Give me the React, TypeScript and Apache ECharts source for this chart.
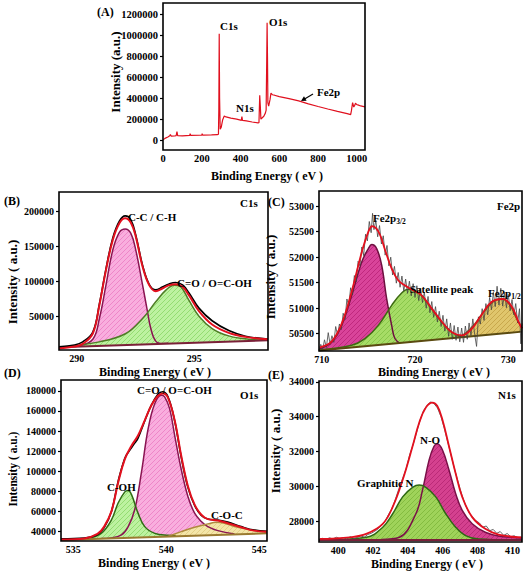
import React, { useEffect, useRef } from 'react';
import * as echarts from 'echarts';

const FONT = '"Liberation Serif", "Times New Roman", serif';

// ---------- Panel A: survey spectrum ----------
const surveyTicksX = [0, 200, 400, 600, 800, 1000];
const surveyTicksY = [0, 200000, 400000, 600000, 800000, 1000000, 1200000];
const survey: [number, number][] = [
  [1, 8000], [10, 22000], [25, 36000], [35, 48000], [38, 60000], [42, 44000], [60, 45000],
  [68, 48000], [72, 86000], [76, 47000], [100, 46000], [138, 50000], [140, 68000], [143, 50000],
  [190, 52000], [200, 53000], [202, 66000], [205, 53000], [250, 55000], [280, 57000], [286, 62000],
  [288, 300000], [290, 1015000], [292, 400000], [295, 110000], [300, 125000], [308, 200000],
  [316, 235000], [325, 226000], [350, 215000], [380, 205000], [400, 196000], [404, 193000],
  [407, 228000], [410, 194000], [430, 188000], [460, 178000], [490, 170000], [495, 171000],
  [499, 432000], [502, 330000], [505, 205000], [512, 218000], [520, 232000], [528, 262000],
  [532, 290000], [535, 750000], [537, 1120000], [539, 800000], [541, 360000], [545, 328000],
  [552, 390000], [557, 452000], [565, 436000], [575, 432000], [600, 419000], [650, 400000],
  [700, 378000], [750, 350000], [800, 325000], [850, 301000], [900, 278000], [950, 257000],
  [968, 247000], [972, 285000], [978, 362000], [984, 320000], [988, 332000], [993, 356000],
  [998, 344000], [1005, 340000], [1020, 330000], [1042, 322000]
];

// ---------- Panel B: C1s ----------
const c1sTicksX = [290, 295];
const c1sTicksY = [50000, 100000, 150000, 200000];
const c1sRaw: [number, number][] = [
  [289.24, 6800], [289.9, 9500], [290.25, 14000], [290.68, 28000], [290.96, 68000], [291.24, 118000],
  [291.53, 162000], [291.81, 186000], [292.06, 193500], [292.3, 188000], [292.51, 166000],
  [292.8, 123000], [293.08, 96000], [293.36, 88000], [293.64, 92000], [293.93, 96500],
  [294.21, 98500], [294.5, 95000], [294.77, 84000], [295.2, 62000], [295.76, 44000],
  [296.47, 30000], [297.18, 22000], [298.14, 17800]
];
const c1sEnvelope: [number, number][] = [
  [289.24, 4400], [289.9, 7200], [290.25, 11000], [290.68, 25800], [290.96, 66200], [291.24, 116200],
  [291.53, 159100], [291.81, 182900], [292.06, 190000], [292.3, 183800], [292.51, 163800],
  [292.8, 121000], [293.08, 94800], [293.36, 86200], [293.64, 90000], [293.93, 94800],
  [294.21, 96200], [294.5, 92400], [294.77, 80500], [295.2, 57700], [295.76, 38600],
  [296.47, 26700], [297.18, 21000], [298.14, 17700]
];
const c1sCC: [number, number][] = [
  [289.6, 7000], [290.11, 8500], [290.68, 17700], [290.96, 47200], [291.24, 94800], [291.53, 144800],
  [291.81, 170000], [292.06, 174800], [292.3, 168600], [292.51, 144800], [292.8, 94800],
  [293.01, 56700], [293.15, 32900], [293.36, 15000], [293.64, 11700], [293.9, 11900]
];
const c1sCO: [number, number][] = [
  [289.24, 6300], [290.96, 13900], [292.09, 25800], [292.8, 47200], [293.36, 71000], [293.79, 87700],
  [294.14, 94800], [294.42, 92400], [294.77, 73400], [295.2, 50500], [295.76, 32900],
  [296.47, 22400], [297.32, 17700], [298.14, 16300]
];
const c1sBaseline: [number, number][] = [[289.24, 6300], [298.14, 16200]];

// ---------- Panel C: Fe2p ----------
const fe2pTicksX = [710, 720, 730];
const fe2pTicksY = [50500, 51000, 51500, 52000, 52500, 53000];
const fe2pRaw: [number, number][] = [
  [709.7, 50170], [709.9, 50290], [710.1, 50190], [710.3, 50380], [710.5, 50230], [710.7, 50520],
  [710.9, 50290], [711.1, 50460], [711.3, 50330], [711.5, 50640], [711.7, 50470], [711.9, 50690],
  [712.1, 50580], [712.3, 50900], [712.5, 50780], [712.7, 51180], [712.9, 51050], [713.1, 51400],
  [713.3, 51260], [713.5, 51640], [713.7, 51520], [713.9, 51920], [714.1, 51830], [714.3, 52200],
  [714.5, 52030], [714.7, 52450], [714.9, 52320], [715.1, 52700], [715.3, 52480], [715.45, 52860],
  [715.6, 52540], [715.8, 52720], [716.0, 52400], [716.2, 52620], [716.4, 52260], [716.6, 52420],
  [716.8, 52040], [717.0, 52230], [717.2, 51830], [717.4, 52000], [717.6, 51650], [717.8, 51820],
  [718.0, 51490], [718.2, 51700], [718.4, 51410], [718.6, 51630], [718.8, 51340], [719.0, 51570],
  [719.2, 51290], [719.4, 51530], [719.6, 51240], [719.8, 51480], [720.0, 51210], [720.2, 51440],
  [720.4, 51150], [720.6, 51390], [720.8, 51110], [721.0, 51310], [721.2, 51000], [721.4, 51230],
  [721.6, 50910], [721.8, 51130], [722.0, 50820], [722.2, 51030], [722.4, 50730], [722.6, 50940],
  [722.8, 50640], [723.0, 50860], [723.2, 50550], [723.4, 50790], [723.6, 50450], [723.8, 50710],
  [724.0, 50390], [724.2, 50660], [724.4, 50370], [724.6, 50630], [724.8, 50340], [725.0, 50610],
  [725.2, 50330], [725.4, 50650], [725.6, 50390], [725.8, 50710], [726.0, 50460], [726.2, 50790],
  [726.4, 50480], [726.6, 50250], [726.8, 50830], [727.0, 50690], [727.2, 50990], [727.4, 50760],
  [727.6, 51090], [727.8, 50870], [728.0, 51210], [728.2, 50970], [728.4, 51310], [728.6, 51030],
  [728.8, 51430], [729.0, 51060], [729.2, 51390], [729.4, 51040], [729.6, 51310], [729.8, 51010],
  [730.0, 51270], [730.2, 50950], [730.4, 51170], [730.6, 50870], [730.8, 51090], [731.0, 50710],
  [731.2, 50990], [731.35, 50300], [731.47, 50700]
];
const fe2pEnvelope: [number, number][] = [
  [709.8, 50230], [711.07, 50349], [712.14, 50696], [713.2, 51318], [714.3, 52103], [715.0, 52496],
  [715.4, 52607], [716.1, 52496], [716.8, 52136], [717.5, 51776], [718.2, 51547], [718.9, 51449],
  [719.6, 51370], [720.7, 51252], [721.8, 50991], [722.9, 50729], [723.9, 50533], [725.0, 50467],
  [726.1, 50598], [727.1, 50860], [728.2, 51122], [729.4, 51180], [730.4, 51023], [731.1, 50729],
  [731.47, 50600]
];
const fe2p32: [number, number][] = [
  [709.82, 50205], [711.07, 50336], [712.14, 50663], [713.21, 51250], [714.29, 51907], [715.0, 52169],
  [715.36, 52247], [715.89, 52169], [716.43, 51842], [716.96, 51187], [717.5, 50663], [717.86, 50400],
  [718.5, 50300]
];
const fe2pSatellite: [number, number][] = [
  [709.72, 50178], [713.21, 50271], [714.64, 50402], [716.07, 50663], [717.5, 51056], [718.57, 51298],
  [719.29, 51370], [720.0, 51350], [720.71, 51252], [721.79, 50990], [722.86, 50729], [723.93, 50533],
  [725.0, 50434], [726.07, 50400]
];
const fe2p12: [number, number][] = [
  [723.93, 50395], [724.29, 50408], [725.36, 50500], [726.43, 50696], [727.5, 50958], [728.57, 51154],
  [729.36, 51187], [730.18, 51056], [730.89, 50794], [731.47, 50610]
];
const fe2pBaseline: [number, number][] = [[709.71, 50172], [731.47, 50540]];

// ---------- Panel D: O1s ----------
const o1sTicksX = [535, 540, 545];
const o1sTicksY = [40000, 60000, 80000, 100000, 120000, 140000, 160000, 180000];
const o1sRaw: [number, number][] = [
  [534.34, 32800], [535.6, 33600], [536.3, 37000], [536.66, 44000], [537.05, 60000], [537.41, 90000],
  [537.77, 113000], [538.0, 120000], [538.3, 128000], [538.48, 133000], [538.84, 150000],
  [539.2, 166000], [539.55, 176500], [539.8, 179000], [540.09, 174000], [540.45, 150000],
  [540.8, 114000], [541.16, 84000], [541.52, 66000], [541.88, 56000], [542.23, 52500],
  [542.77, 51500], [543.3, 49500], [544.02, 45000], [544.73, 41500], [545.41, 40300]
];
const o1sEnvelope: [number, number][] = [
  [534.34, 32300], [535.6, 33300], [536.3, 37700], [536.66, 45000], [537.05, 60100], [537.41, 88600],
  [537.77, 112000], [538.13, 125400], [538.48, 135500], [538.84, 150500], [539.2, 165600],
  [539.55, 175000], [539.82, 177300], [540.09, 173000], [540.45, 150500], [540.8, 115400],
  [541.16, 85200], [541.52, 66800], [541.88, 56800], [542.23, 52400], [542.77, 51100],
  [543.3, 48400], [544.02, 44400], [544.73, 41000], [545.41, 40000]
];
const o1sCOH: [number, number][] = [
  [535.8, 33300], [536.5, 38300], [537.05, 51700], [537.41, 68500], [537.77, 79500], [537.95, 80900],
  [538.13, 76800], [538.48, 58400], [538.84, 45000], [539.38, 38300], [540.09, 36300], [540.5, 36000]
];
const o1sCO: [number, number][] = [
  [536.5, 33300], [537.05, 33800], [537.59, 36700], [537.95, 45000], [538.3, 61800], [538.66, 98600],
  [539.02, 142000], [539.38, 167300], [539.73, 175600], [539.91, 174000], [540.18, 162000],
  [540.45, 135500], [540.8, 102000], [541.16, 75000], [541.52, 58400], [541.88, 50100],
  [542.23, 45000], [542.77, 41000], [543.66, 37700]
];
const o1sCOC: [number, number][] = [
  [540.09, 35200], [540.8, 40000], [541.52, 44400], [542.23, 47700], [542.68, 49400], [543.13, 48400],
  [543.66, 45000], [544.55, 41700], [545.41, 40000]
];
const o1sBaseline: [number, number][] = [[534.34, 31600], [545.41, 38300]];

// ---------- Panel E: N1s ----------
const n1sTicksX = [400, 402, 404, 406, 408, 410];
const n1sTicksY = [28000, 30000, 32000, 34000, 36000];
const n1sTickLabels = ['28000', '30000', '32000', '34000', '34000'];
const n1sRaw: [number, number][] = [
  [398.9, 26960], [399.1, 27010], [399.3, 26950], [399.5, 27040], [399.7, 26980], [399.9, 27070],
  [400.1, 26990], [400.3, 27050], [400.5, 26970], [400.7, 27110], [400.9, 27000], [401.1, 27060],
  [401.3, 27150], [401.5, 27080], [401.7, 27230], [401.9, 27300], [402.1, 27420], [402.3, 27560],
  [402.5, 27780], [402.7, 28020], [402.9, 28400], [403.1, 28750], [403.3, 29300], [403.5, 29900],
  [403.7, 30450], [403.9, 31000], [404.1, 31800], [404.3, 32400], [404.5, 33100], [404.7, 33800],
  [404.9, 34350], [405.1, 34650], [405.3, 34850], [405.5, 34750], [405.7, 34500], [405.9, 34000],
  [406.1, 33300], [406.3, 32500], [406.5, 31700], [406.7, 30900], [406.9, 30200], [407.1, 29500],
  [407.3, 28950], [407.5, 28500], [407.7, 28250], [407.9, 28020], [408.1, 27900], [408.3, 27650],
  [408.5, 27720], [408.7, 27450], [408.9, 27520], [409.1, 27300], [409.3, 27400], [409.5, 27180],
  [409.7, 27290], [409.9, 27100], [410.1, 27160], [410.3, 27050], [410.5, 27080]
];
const n1sEnvelope: [number, number][] = [
  [398.96, 26975], [400.66, 27070], [401.61, 27265], [402.56, 27845], [403.13, 28813], [403.7, 30360],
  [404.27, 32300], [404.65, 33650], [405.03, 34520], [405.41, 34810], [405.69, 34615], [405.98, 33840],
  [406.36, 32300], [406.74, 30750], [407.12, 29390], [407.69, 28230], [408.44, 27555], [409.2, 27225],
  [410.53, 27070]
];
const n1sNO: [number, number][] = [
  [402.5, 26950], [403.51, 27070], [404.46, 28425], [404.84, 29780], [405.22, 31520], [405.5, 32300],
  [405.69, 32450], [405.98, 32100], [406.36, 30940], [406.74, 29590], [407.12, 28620], [407.69, 27845],
  [408.44, 27360], [409.2, 27150], [410.53, 27030]
];
const n1sGraphitic: [number, number][] = [
  [398.96, 26917], [401.61, 27070], [402.56, 27650], [403.13, 28425], [403.7, 29390], [404.27, 29935],
  [404.65, 30070], [405.03, 29935], [405.6, 29390], [406.17, 28425], [406.74, 27650], [407.31, 27170],
  [408.06, 26975], [410.53, 26917]
];
const n1sBaseline: [number, number][] = [[398.9, 26920], [410.55, 26920]];

// ---------- layout ----------
const grids = [
  { left: 163, top: 3, width: 202, height: 147 },
  { left: 59, top: 192, width: 209, height: 158 },
  { left: 319, top: 191, width: 203, height: 160 },
  { left: 61, top: 380, width: 206, height: 161 },
  { left: 319, top: 381, width: 203, height: 161 },
];
const xRanges = [[0, 1042], [289.24, 298.14], [709.71, 731.47], [534.34, 545.41], [398.9, 410.55]];
const yRanges = [[-88000, 1307000], [2300, 227600], [50160, 53298], [30700, 190700], [26800, 36050]];
const xTicks = [surveyTicksX, c1sTicksX, fe2pTicksX, o1sTicksX, n1sTicksX];
const yTicks = [surveyTicksY, c1sTicksY, fe2pTicksY, o1sTicksY, n1sTicksY];

function hatch(bg: string, fg: string) {
  const s = 5;
  const c = document.createElement('canvas');
  c.width = s; c.height = s;
  const g = c.getContext('2d')!;
  g.fillStyle = bg; g.fillRect(0, 0, s, s);
  g.strokeStyle = fg; g.lineWidth = 1;
  g.beginPath();
  g.moveTo(0, s); g.lineTo(s, 0);
  g.moveTo(-1, 1); g.lineTo(1, -1);
  g.moveTo(s - 1, s + 1); g.lineTo(s + 1, s - 1);
  g.stroke();
  return { image: c, repeat: 'repeat', imageWidth: s, imageHeight: s } as any;
}

export default function App() {
  const ref = useRef<HTMLDivElement>(null);
  useEffect(() => {
    if (!ref.current) return;
    const chart = echarts.init(ref.current, undefined, { renderer: 'svg' });

    const labelStyle = { fontFamily: FONT, fontWeight: 'bold' as const, fontSize: 10, color: '#000' };

    const xAxis = grids.map((_, i) => ({
      type: 'value', gridIndex: i, min: xRanges[i][0], max: xRanges[i][1],
      axisLine: { show: false }, splitLine: { show: false },
      axisTick: { show: false },
      axisLabel: {
        ...labelStyle, fontSize: i === 0 ? 10.5 : 10, margin: 3, customValues: xTicks[i],
        formatter: (v: number) => String(v),
      },
    }));
    const yAxis = grids.map((_, i) => ({
      type: 'value', gridIndex: i, min: yRanges[i][0], max: yRanges[i][1],
      axisLine: { show: false }, splitLine: { show: false },
      axisTick: { show: true, length: 3, lineStyle: { color: '#000', width: 1.2 }, customValues: yTicks[i] },
      axisLabel: {
        ...labelStyle, fontSize: i === 0 ? 10.5 : 10, margin: 5, customValues: yTicks[i],
        formatter: i === 4 ? (v: number) => n1sTickLabels[n1sTicksY.indexOf(v)] ?? String(v) : (v: number) => String(v),
      },
    }));

    const line = (gi: number, data: [number, number][], color: string, width: number, smooth: any, z = 5) => ({
      type: 'line', xAxisIndex: gi, yAxisIndex: gi, data, symbol: 'none', smooth, silent: true,
      lineStyle: { color, width }, z,
    });
    const fill = (gi: number, data: [number, number][], color: any, edge: string, z = 2) => ({
      type: 'line', xAxisIndex: gi, yAxisIndex: gi, data, symbol: 'none', smooth: 0.4, silent: true,
      lineStyle: { color: edge, width: 1.5 }, areaStyle: { color, origin: 'start', opacity: 1 }, z,
    });
    const cover = (gi: number, data: [number, number][], edge: string) => ({
      type: 'line', xAxisIndex: gi, yAxisIndex: gi, data, symbol: 'none', silent: true,
      lineStyle: { color: edge, width: 2 }, areaStyle: { color: '#ffffff', origin: 'start', opacity: 1 }, z: 3,
    });

    const pinkLight = hatch('#f9aede', '#ee86c8');
    const greenLight = hatch('#bdf2a0', '#94dc72');
    const magenta = hatch('#d9449a', '#c0287e');
    const greenMid = hatch('#a6dc66', '#88c64a');
    const yellow = hatch('#e0c66c', '#c8a84c');
    const yellowLight = hatch('#f4e6a8', '#e4d088');
    const magentaE = hatch('#d4418f', '#bb2a78');
    const greenE = hatch('#9fd35a', '#84bc40');

    const series: any[] = [
      // A
      line(0, survey, '#e0101e', 1.2, false),
      // B
      fill(1, c1sCC, pinkLight, '#8a1452', 2),
      fill(1, c1sCO, greenLight, '#4f7d26', 2),
      cover(1, c1sBaseline, '#7a2038'),
      line(1, c1sRaw, '#000000', 1.6, 0.4, 4),
      line(1, c1sEnvelope, '#e3101e', 2, 0.4, 5),
      // C
      fill(2, fe2p32, magenta, '#6e1040', 2),
      fill(2, fe2pSatellite, greenMid, '#3d6a12', 2),
      fill(2, fe2p12, yellow, '#8a5a22', 2),
      cover(2, fe2pBaseline, '#5a4a10'),
      line(2, fe2pRaw, '#444444', 0.8, false, 4),
      line(2, fe2pEnvelope, '#e3101e', 1.8, 0.4, 5),
      // D
      fill(3, o1sCO, pinkLight, '#8a1452', 2),
      fill(3, o1sCOH, greenLight, '#2f6a14', 2),
      fill(3, o1sCOC, yellowLight, '#b08a40', 2),
      cover(3, o1sBaseline, '#9a7a30'),
      line(3, o1sRaw, '#000000', 1.6, 0.4, 4),
      line(3, o1sEnvelope, '#e3101e', 2, 0.4, 5),
      // E
      fill(4, n1sNO, magentaE, '#7a1048', 2),
      fill(4, n1sGraphitic, greenE, '#2f6a14', 2),
      cover(4, n1sBaseline, '#7a2038'),
      line(4, n1sRaw, '#555555', 0.9, false, 4),
      line(4, n1sEnvelope, '#e3101e', 1.8, 0.4, 5),
    ];

    const txt = (text: string, x: number, y: number, size = 11, extra: any = {}) => ({
      type: 'text', x, y, z: 120, silent: true,
      style: { text, fontFamily: FONT, fontWeight: 'bold', fontSize: size, fill: '#000', verticalAlign: 'middle', ...extra },
    });
    const vtxt = (text: string, x: number, y: number, size = 13) => ({
      type: 'text', x, y, rotation: Math.PI / 2, z: 120, silent: true,
      style: { text, fontFamily: FONT, fontWeight: 'bold', fontSize: size, fill: '#000', align: 'center', verticalAlign: 'middle' },
    });
    const htitle = (x: number, y: number) => txt('Binding Energy ( eV )', x, y, 12, { align: 'center' });
    const sub = (main: string, s: string, x: number, y: number) => ({
      type: 'text', x, y, z: 120, silent: true,
      style: {
        text: `{a|${main}}{b|${s}}`, verticalAlign: 'middle',
        rich: {
          a: { fontFamily: FONT, fontWeight: 'bold', fontSize: 11, fill: '#000' },
          b: { fontFamily: FONT, fontWeight: 'bold', fontSize: 7.5, fill: '#000', padding: [7, 0, 0, 0] },
        },
      },
    });

    const frames = grids.map((g) => ({
      type: 'rect', z: 110, silent: true,
      shape: { x: g.left, y: g.top, width: g.width, height: g.height },
      style: { fill: 'none', stroke: '#000', lineWidth: 1.6 },
    }));

    const graphic: any[] = [
      ...frames,
      // A
      txt('(A)', 97, 12, 12),
      txt('C1s', 220, 26),
      txt('O1s', 269, 22),
      txt('N1s', 236, 108),
      txt('Fe2p', 317, 92),
      { type: 'line', z: 120, silent: true, shape: { x1: 313, y1: 94, x2: 305, y2: 98.7 }, style: { stroke: '#000', lineWidth: 1.2 } },
      { type: 'polygon', z: 120, silent: true, shape: { points: [[301, 101], [306.6, 100.7], [304, 96.3]] }, style: { fill: '#000' } },
      vtxt('Intensity (a.u.)', 115, 72),
      htitle(267, 176),
      // B
      txt('(B)', 4, 201, 12),
      txt('C1s', 240, 203),
      txt('C-C / C-H', 128, 217),
      txt('C=O / O=C-OH', 177, 283),
      vtxt('Intensity ( a.u.)', 12, 282),
      htitle(155, 372),
      // C
      txt('(C)', 268, 202, 12),
      txt('Fe2p', 497, 206),
      sub('Fe2p', '3/2', 373, 218),
      txt('Satellite peak', 410, 289),
      sub('Fe2p', '1/2', 488, 293),
      vtxt('Intensity ( a.u.)', 270, 277),
      htitle(434, 372),
      // D
      txt('(D)', 4, 373, 12),
      txt('O1s', 240, 395),
      txt('C=O / O=C-OH', 137, 390),
      txt('C-OH', 107, 487),
      txt('C-O-C', 211, 515),
      vtxt('Intensity ( a.u.)', 13, 469, 11.5),
      htitle(154, 563),
      // E
      txt('(E)', 268, 375, 12),
      txt('N1s', 498, 395),
      txt('N-O', 420, 440),
      txt('Graphitic N', 357, 483),
      vtxt('Intensity ( a.u.)', 275, 451),
      htitle(427, 564),
    ];

    chart.setOption({
      animation: false,
      backgroundColor: '#ffffff',
      grid: grids.map((g) => ({ ...g, containLabel: false })),
      xAxis, yAxis, series, graphic,
    });
    return () => chart.dispose();
  }, []);
  return <div ref={ref} style={{ position: 'absolute', left: 0, top: 0, width: 526, height: 572 }} />;
}
